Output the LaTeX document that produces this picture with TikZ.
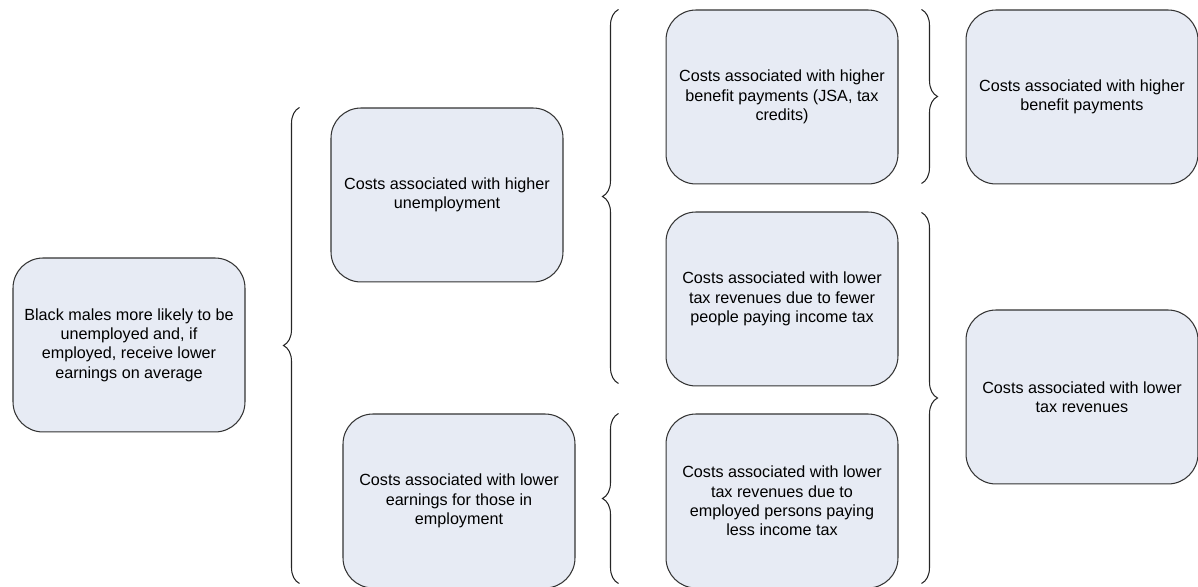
\documentclass[tikz,border=0pt]{standalone}
\usepackage{fontspec}
\setmainfont{Liberation Sans}
\usepackage{xcolor}
\usepackage{tikz}
\usetikzlibrary{positioning,decorations.pathreplacing,calc}
\definecolor{costfill}{RGB}{231,235,244}

\begin{document}
\begin{tikzpicture}[
    x=0.02cm, y=0.02cm,
    font=\fontsize{9.2}{11}\selectfont,
    box/.style={rectangle, draw=black!80, line width=0.6pt, rounded corners=0.6cm,
                fill=costfill, align=center, minimum width=4.64cm, minimum height=3.48cm, inner sep=4pt},
    brc/.style={decorate, decoration={brace, amplitude=0.32cm}, draw=black!85, line width=0.6pt}
]
\useasboundingbox (0,0) rectangle (1198,587);
% Starting point (left)
\node[box] (root) at (129,242)
     {Black males more likely to be\\ unemployed and, if\\ employed, receive lower\\ earnings on average};
% First split
\node[box] (unemp) at (447,392) {Costs associated with higher\\ unemployment};
\node[box] (earn)  at (459,86)  {Costs associated with lower\\ earnings for those in\\ employment};
% Detailed costs (centre)
\node[box] (benefit)  at (782,490) {Costs associated with higher\\ benefit payments (JSA, tax\\ credits)};
\node[box] (fewer)    at (782,288) {Costs associated with lower\\ tax revenues due to fewer\\ people paying income tax};
\node[box] (employed) at (782,86)  {Costs associated with lower\\ tax revenues due to\\ employed persons paying\\ less income tax};
% Totals (right)
\node[box] (totben) at (1082,490) {Costs associated with higher\\ benefit payments};
\node[box] (totrev) at (1082,190) {Costs associated with lower\\ tax revenues};
% Braces
\draw[brc] ($(earn.south west -| unemp.west)+(-31,5)$) -- ($(unemp.north west)+(-31,0)$);
\draw[brc] ($(fewer.south west)+(-47,3)$) -- ($(benefit.north west)+(-47,0)$);
\draw[brc] ($(employed.south west)+(-47,5)$) -- ($(employed.north west)+(-47,0)$);
\draw[brc] ($(benefit.north east)+(23,0)$) -- ($(benefit.south east)+(23,1)$);
\draw[brc] ($(fewer.north east)+(23,-1)$) -- ($(employed.south east)+(23,5)$);
\end{tikzpicture}
\end{document}
